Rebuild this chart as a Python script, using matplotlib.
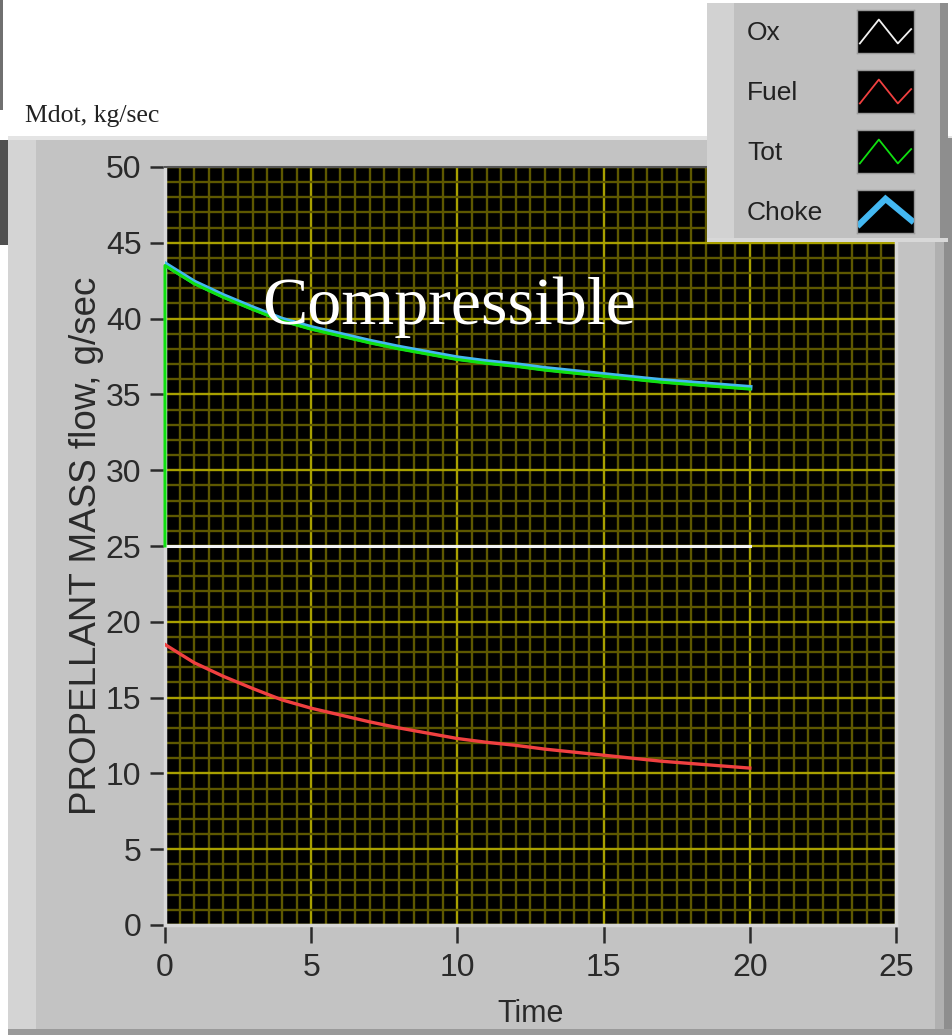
import numpy as np
import matplotlib.pyplot as plt
from matplotlib.patches import Rectangle
from matplotlib.ticker import MultipleLocator

# propellant flow history, g/sec, sampled once per second
time_s = np.arange(0, 21)
ox_flow = np.array([25.0] * 21)
fuel_flow = np.array([18.5, 17.3, 16.4, 15.6, 14.85, 14.3, 13.85, 13.4, 13.0, 12.65, 12.3,
                      12.05, 11.85, 11.6, 11.4, 11.2, 11.0, 10.8, 10.65, 10.5, 10.35])
choke_flow = np.array([43.6, 42.4, 41.5, 40.7, 39.95, 39.4, 38.95, 38.5, 38.1, 37.75, 37.4,
                       37.15, 36.95, 36.7, 36.5, 36.3, 36.1, 35.9, 35.75, 35.6, 35.45])
# total flow starts from oxidizer only before fuel comes on
tot_time = np.r_[time_s[0], time_s]
tot_flow = np.r_[ox_flow[0], ox_flow + fuel_flow]

legend_names = ["Ox", "Fuel", "Tot", "Choke"]
colors = {"Ox": "#f2f2f2", "Fuel": "#f04040", "Tot": "#10e010", "Choke": "#44b8f2"}

W, H = 953, 1035
fig = plt.figure(figsize=(W / 100, H / 100), dpi=100)
fig.patch.set_facecolor("white")

def px_rect(x0, y0, x1, y1, color, z=-1):
    # rectangle given in pixel coords (origin top-left)
    r = Rectangle((x0 / W, 1 - y1 / H), (x1 - x0) / W, (y1 - y0) / H,
                  transform=fig.transFigure, facecolor=color, edgecolor="none", zorder=z)
    fig.patches.append(r)

# gray front panel
px_rect(8, 138, W, H, "#c3c3c3")
px_rect(8, 138, 36, H, "#d4d4d4")
px_rect(8, 136, W, 140, "#e4e4e4")
px_rect(935, 138, 944, H, "#b0b0b0")
px_rect(944, 138, W, H, "#8e8e8e")
px_rect(8, 1029, W, H, "#9a9a9a")
px_rect(0, 0, 3, 110, "#707070")
px_rect(0, 140, 8, 245, "#505050")

fig.text(25 / W, 1 - 122 / H, "Mdot, kg/sec", family="Liberation Serif",
         fontsize=18.5, color="#222222", ha="left", va="baseline")

ax = fig.add_axes([165 / W, 110 / H, 731 / W, 758 / H], zorder=1)
ax.set_facecolor("black")
ax.set_xlim(0, 25)
ax.set_ylim(0, 50)
ax.xaxis.set_major_locator(MultipleLocator(5))
ax.yaxis.set_major_locator(MultipleLocator(5))
ax.xaxis.set_minor_locator(MultipleLocator(0.5))
ax.yaxis.set_minor_locator(MultipleLocator(1))
ax.grid(which="minor", color="#5e5800", linewidth=1.7)
ax.grid(which="major", color="#a8a000", linewidth=1.7)
ax.set_axisbelow(True)
ax.tick_params(which="minor", length=0)
ax.tick_params(which="major", width=1.8, color="#2a2a2a",
               labelsize=23, labelcolor="#2a2a2a")
ax.tick_params(axis="x", which="major", length=13, pad=7)
ax.tick_params(axis="y", which="major", length=11, pad=6)
for lab in ax.get_xticklabels() + ax.get_yticklabels():
    lab.set_family("Liberation Sans")
for side in ["left", "bottom", "right"]:
    ax.spines[side].set_color("#d8d8d8")
    ax.spines[side].set_linewidth(2.5)
ax.spines["top"].set_color("#555555")
ax.spines["top"].set_linewidth(1.5)

ax.plot(time_s, ox_flow, color=colors["Ox"], lw=2.2, zorder=3)
ax.plot(time_s, choke_flow, color=colors["Choke"], lw=3.8, zorder=3,
        solid_joinstyle="miter")
ax.plot(tot_time, tot_flow, color=colors["Tot"], lw=2.2, zorder=4, clip_on=False)
ax.plot(time_s, fuel_flow, color=colors["Fuel"], lw=2.4, zorder=4)

ax.set_xlabel("Time", family="Liberation Sans", fontsize=22, color="#2a2a2a", labelpad=12)
ax.set_ylabel("PROPELLANT MASS flow, g/sec", family="Liberation Sans", fontsize=26.5,
              color="#2a2a2a", labelpad=1)

fig.text(262 / W, 1 - 324 / H, "Compressible", family="Liberation Serif",
         fontsize=49, color="white", ha="left", va="baseline", zorder=10)

# plot legend panel at top right
px_rect(707, 3, 948, 242, "#c0c0c0", z=5)
px_rect(707, 3, 734, 242, "#d2d2d2", z=5)
px_rect(940, 3, 948, 242, "#8e8e8e", z=5)
px_rect(707, 238, 948, 242, "#d8d8d8", z=5)
icon_y = [10, 70, 130, 190]
zig_x = [0, 1, 2, 2.7]
zig_y = [0, 1, 0, 0.6]
for name, y0 in zip(legend_names, icon_y):
    fig.text(747 / W, 1 - (y0 + 23) / H, name, family="Liberation Sans", fontsize=19,
             color="#222222", ha="left", va="center", zorder=6)
    iax = fig.add_axes([857 / W, 1 - (y0 + 43) / H, 57 / W, 43 / H], zorder=6)
    iax.set_facecolor("black")
    if name == "Choke":
        iax.plot([0, 1, 2], [0, 1, 0.15], color=colors[name], lw=4.5,
                 solid_joinstyle="miter")
        iax.set_ylim(-0.35, 1.35)
        iax.set_xlim(-0.1, 2.1)
    else:
        iax.plot(zig_x, zig_y, color=colors[name], lw=1.3)
        iax.set_ylim(-0.4, 1.4)
        iax.set_xlim(-0.15, 2.85)
    iax.set_xticks([])
    iax.set_yticks([])
    for s in iax.spines.values():
        s.set_color("#9a9a9a")
        s.set_linewidth(1)

fig.savefig("out.png", dpi=100)
